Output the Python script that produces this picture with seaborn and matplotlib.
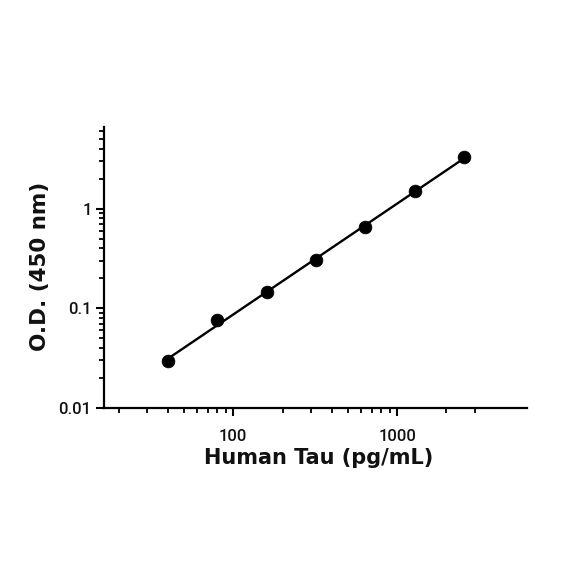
import numpy as np
import pandas as pd
import matplotlib
matplotlib.use("Agg")
import matplotlib.pyplot as plt
import seaborn as sns
from matplotlib.ticker import FixedLocator, NullFormatter, FixedFormatter

# Data
conc = [40, 80, 160, 320, 640, 1280, 2560]
od = [0.0295, 0.0757, 0.145, 0.303, 0.66, 1.49, 3.27]
x_major = [100, 1000]
x_major_labels = ["100", "1000"]
x_minor = [20, 30, 40, 50, 60, 70, 80, 90, 200, 300, 400, 500, 600, 700, 800, 900, 2000, 3000]
y_major = [0.01, 0.1, 1]
y_major_labels = ["0.01", "0.1", "1"]
y_minor = [0.02, 0.03, 0.04, 0.05, 0.06, 0.07, 0.08, 0.09,
           0.2, 0.3, 0.4, 0.5, 0.6, 0.7, 0.8, 0.9,
           2, 3, 4, 5, 6]

sns.set_theme(style="ticks")
plt.rcParams['font.family'] = ['DejaVu Sans']

df = pd.DataFrame({"conc": conc, "od": od})

# fit in log-log space
coef = np.polyfit(np.log10(df["conc"]), np.log10(df["od"]), 1)
xfit = np.logspace(np.log10(min(conc)), np.log10(max(conc)), 100)
fit = pd.DataFrame({"conc": xfit, "od": 10 ** np.polyval(coef, np.log10(xfit))})

fig = plt.figure(figsize=(5.84, 5.84), dpi=100)
ax = fig.add_axes([104/584, 1-408/584, (527-104)/584, (408-127)/584])

sns.lineplot(data=fit, x="conc", y="od", ax=ax, color="black", linewidth=1.7)
sns.scatterplot(data=df, x="conc", y="od", ax=ax, color="black", s=85,
                edgecolor="black", linewidth=0.5, zorder=5)

ax.set_xscale("log")
ax.set_yscale("log")
ax.set_xlim(16.3, 6200)
ax.set_ylim(0.01, 6.6)

ax.xaxis.set_major_locator(FixedLocator(x_major))
ax.xaxis.set_major_formatter(FixedFormatter(x_major_labels))
ax.xaxis.set_minor_locator(FixedLocator(x_minor))
ax.xaxis.set_minor_formatter(NullFormatter())
ax.yaxis.set_major_locator(FixedLocator(y_major))
ax.yaxis.set_major_formatter(FixedFormatter(y_major_labels))
ax.yaxis.set_minor_locator(FixedLocator(y_minor))
ax.yaxis.set_minor_formatter(NullFormatter())

for s in ["top", "right"]:
    ax.spines[s].set_visible(False)
for s in ["left", "bottom"]:
    ax.spines[s].set_linewidth(1.6)
    ax.spines[s].set_color("black")

ax.tick_params(axis="both", which="major", direction="out", length=6, width=1.5,
               color="black", labelsize=12)
ax.tick_params(axis="both", which="minor", direction="out", length=3.5, width=1.3,
               color="black")
ax.tick_params(axis="x", which="major", pad=9)
ax.tick_params(axis="y", which="major", pad=3)
for lab in ax.get_xticklabels() + ax.get_yticklabels():
    lab.set_fontfamily("Roboto")
    lab.set_fontweight("medium")
    lab.set_color("#111111")

ax.set_xlabel("Human Tau (pg/mL)", fontsize=15, fontweight="bold", color="#111111")
ax.set_ylabel("O.D. (450 nm)", fontsize=15.5, fontweight="bold", color="#111111")
ax.xaxis.set_label_coords(0.508, -0.143)
ax.yaxis.set_label_coords(-0.128, 0.503)

fig.savefig("out.png", dpi=100)
